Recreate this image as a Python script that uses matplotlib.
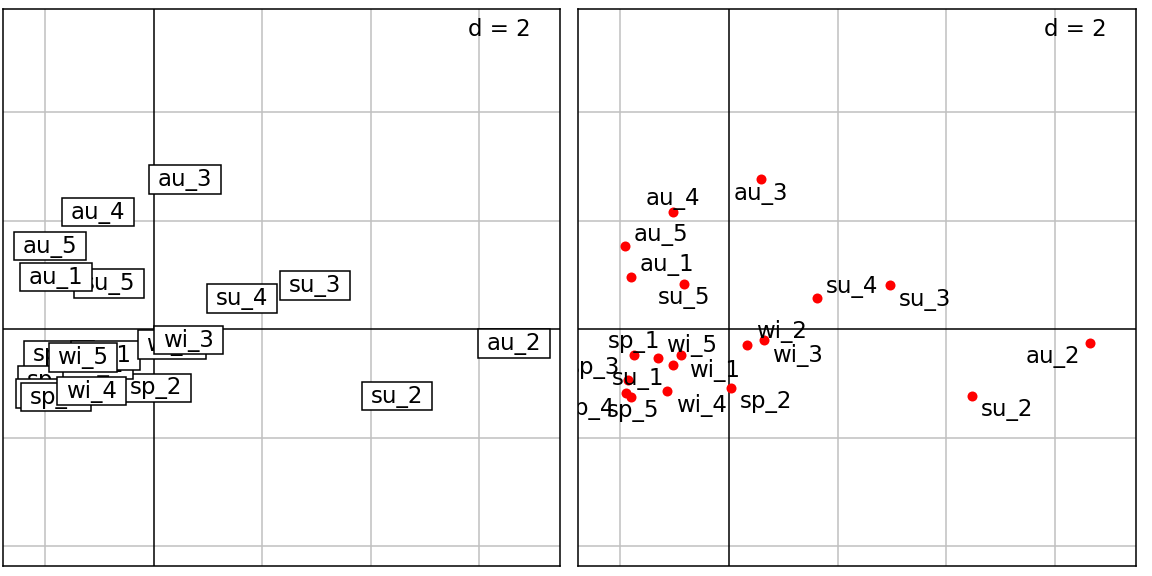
import matplotlib
matplotlib.use("Agg")
import matplotlib.pyplot as plt
from matplotlib.path import Path

labels = ["sp_1", "sp_2", "sp_3", "sp_4", "sp_5",
          "su_1", "su_2", "su_3", "su_4", "su_5",
          "au_1", "au_2", "au_3", "au_4", "au_5",
          "wi_1", "wi_2", "wi_3", "wi_4", "wi_5"]
xs = [-1.75, 0.04, -1.86, -1.90, -1.80,
      -1.03, 4.48, 2.97, 1.62, -0.82,
      -1.81, 6.64, 0.58, -1.03, -1.92,
      -0.89, 0.33, 0.64, -1.15, -1.31]
ys = [-0.47, -1.08, -0.94, -1.18, -1.25,
      -0.66, -1.23, 0.81, 0.57, 0.84,
      0.96, -0.26, 2.76, 2.16, 1.53,
      -0.48, -0.28, -0.20, -1.14, -0.52]

grid_x = [-2, 2, 4, 6]
grid_y = [-4, -2, 2, 4]
xlim = (-2.78, 7.49)
ylim = (-4.36, 5.90)

# label offsets for right panel (pixels: dx right, dy down)
offsets = {
    "sp_1": (0, -13), "sp_2": (35, 14), "sp_3": (-34, -13), "sp_4": (-37, 15), "sp_5": (2, 13),
    "su_1": (-35, 13), "su_2": (35, 13), "su_3": (35, 14), "su_4": (35, -12), "su_5": (0, 14),
    "au_1": (36, -13), "au_2": (-37, 13), "au_3": (0, 14), "au_4": (0, -14), "au_5": (36, -12),
    "wi_1": (34, 15), "wi_2": (34, -13), "wi_3": (34, 15), "wi_4": (35, 14), "wi_5": (34, -12),
}


def label_box(x0, y0, width, height, mutation_size):
    padx = 0.38 * mutation_size
    pady = 0.12 * mutation_size
    x0, x1 = x0 - padx, x0 + width + padx
    y0, y1 = y0 - pady, y0 + height + pady
    return Path([(x0, y0), (x1, y0), (x1, y1), (x0, y1), (x0, y0)], closed=True)


W, H = 1152, 576
fig = plt.figure(figsize=(W / 100, H / 100), dpi=100)
ax1 = fig.add_axes([3 / W, 10 / H, 557 / W, 557 / H])
ax2 = fig.add_axes([578 / W, 10 / H, 558 / W, 557 / H])

FS = 16.5
for ax in (ax1, ax2):
    ax.set_xlim(*xlim)
    ax.set_ylim(*ylim)
    ax.set_xticks([])
    ax.set_yticks([])
    for g in grid_x:
        ax.axvline(g, color="#c0c0c0", lw=1.1, zorder=0)
    for g in grid_y:
        ax.axhline(g, color="#c0c0c0", lw=1.1, zorder=0)
    ax.axvline(0, color="black", lw=1.1, zorder=1)
    ax.axhline(0, color="black", lw=1.1, zorder=1)
    for s in ax.spines.values():
        s.set_linewidth(1.1)
    ax.text(0.948, 0.964, "d = 2", transform=ax.transAxes, ha="right", va="center",
            fontsize=FS, zorder=5)

for i, (lab, x, y) in enumerate(zip(labels, xs, ys)):
    ax1.text(x, y, lab, ha="center", va="center", fontsize=FS, zorder=3 + i * 0.01,
             bbox=dict(boxstyle=label_box, fc="white", ec="black", lw=1.1))

ax2.scatter(xs, ys, s=52, color="red", zorder=3, linewidths=0)
for lab, x, y in zip(labels, xs, ys):
    dx, dy = offsets[lab]
    t = ax2.annotate(lab, (x, y), xytext=(dx * 0.72, -dy * 0.72), textcoords="offset points",
                     ha="center", va="center", fontsize=FS, zorder=4)
    t.set_clip_on(True)
    t.set_clip_path(ax2.patch)

fig.savefig("out.png", dpi=100)
